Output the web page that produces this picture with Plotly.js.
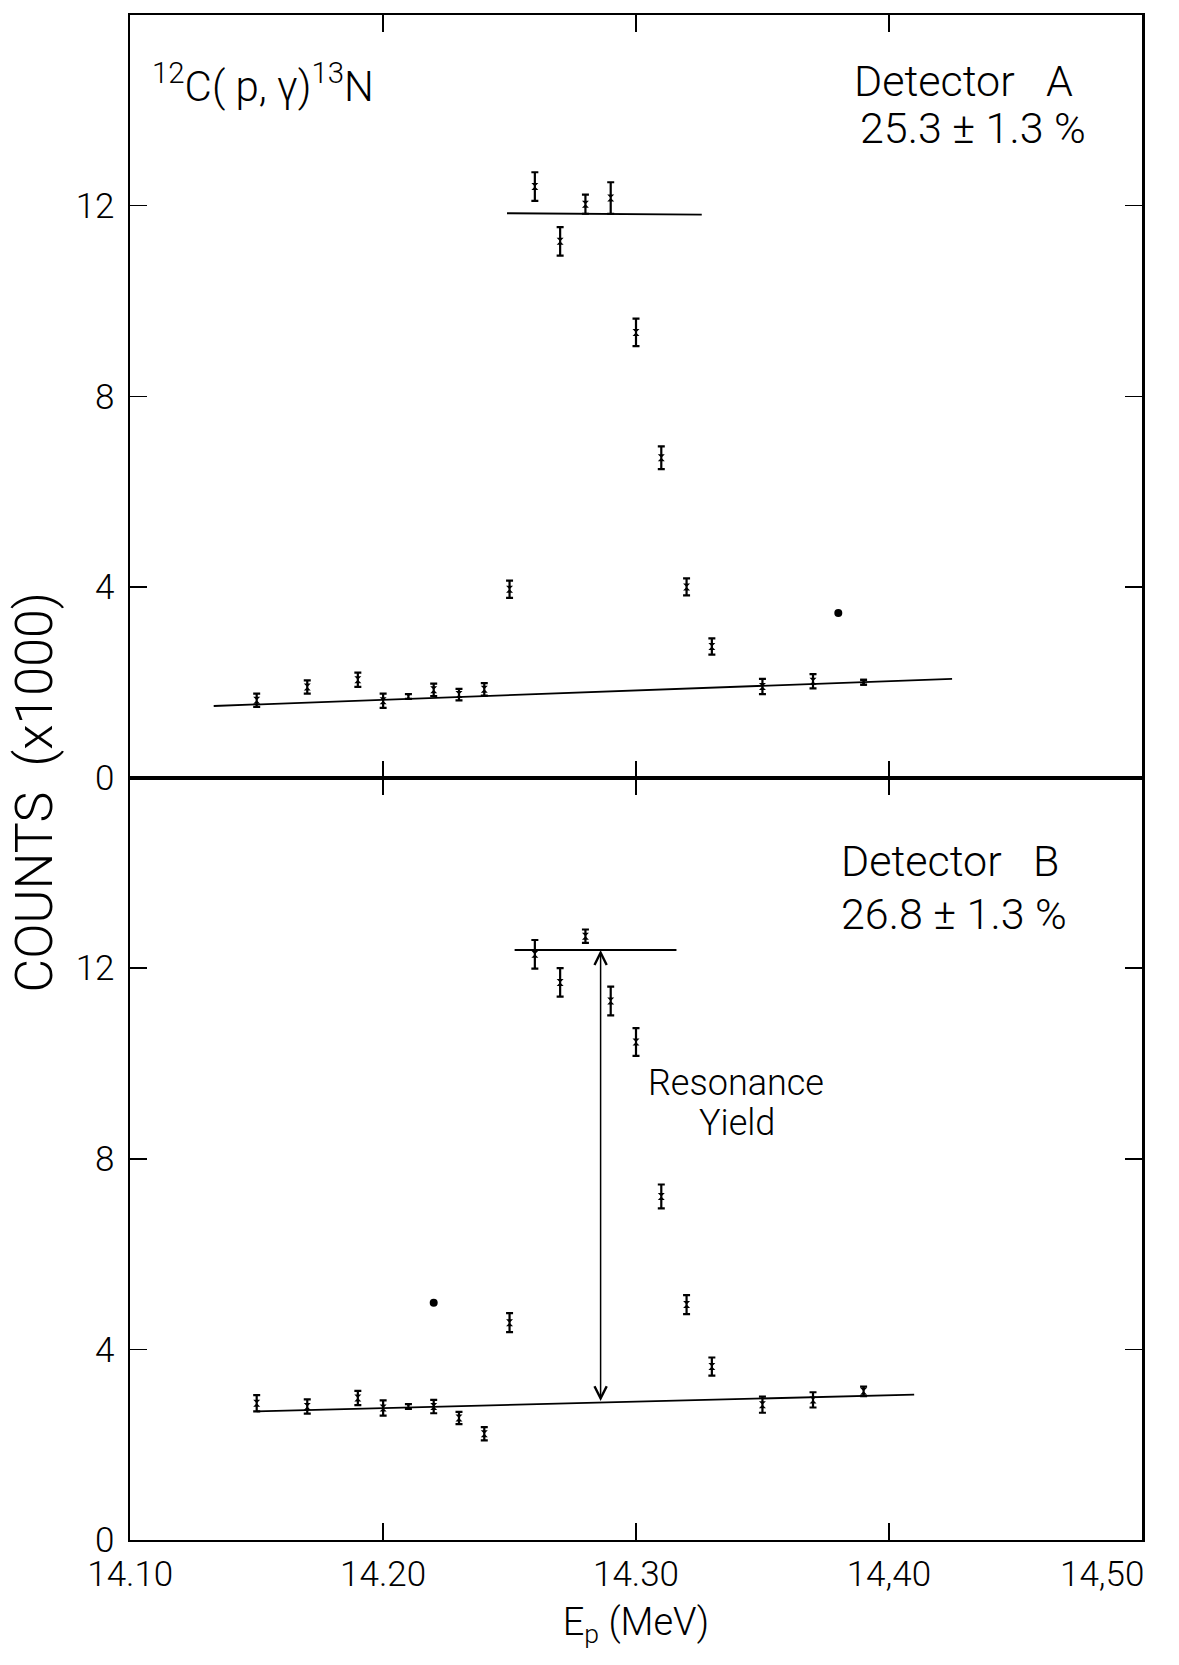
<!DOCTYPE html>
<html>
<head>
<meta charset="utf-8">
<script src="https://cdn.plot.ly/plotly-3.0.1.min.js"></script>
<style>html,body{margin:0;padding:0;background:#fff;}#chart{width:1179px;height:1665px;}</style>
</head>
<body>
<div id="chart"></div>
<script>
// ---- Data, counts in units of 1000 ----
const energy = [14.15, 14.17, 14.19, 14.20, 14.21, 14.22, 14.23, 14.24, 14.25, 14.26,
                14.27, 14.28, 14.29, 14.30, 14.31, 14.32, 14.33, 14.35, 14.37, 14.39];

// Detector A (upper panel)
const countsA = [1.62, 1.90, 2.05, 1.61, 1.70, 1.84, 1.74, 1.85, 3.95, 12.40,
                 11.25, 12.03, 12.16, 9.34, 6.71, 4.00, 2.75, 1.91, 2.02, 2.00];
const errA    = [0.14, 0.14, 0.15, 0.15, 0.05, 0.13, 0.12, 0.13, 0.18, 0.30,
                 0.30, 0.20, 0.33, 0.29, 0.24, 0.18, 0.17, 0.16, 0.15, 0.05];
const bgLineA_E = [14.133, 14.425];
const bgLineA_y = [1.50, 2.07];
const plateauA_E = [14.249, 14.326];
const plateauA_y = [11.84, 11.81];
const strayA_E = [14.38];
const strayA_y = [3.45];

// Detector B (lower panel)
const countsB = [2.87, 2.80, 2.98, 2.77, 2.80, 2.80, 2.56, 2.23, 4.56, 12.29,
                 11.70, 12.67, 11.31, 10.45, 7.21, 4.94, 3.64, 2.84, 2.94, 3.12];
const errB    = [0.17, 0.15, 0.15, 0.16, 0.05, 0.14, 0.13, 0.14, 0.20, 0.30,
                 0.30, 0.14, 0.30, 0.29, 0.25, 0.20, 0.19, 0.17, 0.16, 0.10];
const bgLineB_E = [14.150, 14.410];
const bgLineB_y = [2.70, 3.05];
const plateauB_E = [14.252, 14.316];
const plateauB_y = [12.38, 12.38];
const strayB_E = [14.22];
const strayB_y = [4.98];
const resonanceE = 14.286;

// Axis ticks
const xTickVals = [14.10, 14.20, 14.30, 14.40, 14.50];
const xTickText = ['14.10', '14.20', '14.30', '14,40', '14,50'];
const yTickVals = [0, 4, 8, 12];
const yTickText = ['0', '4', '8', '12'];

// ---- Build ----
const FONT = 'Roboto, "Open Sans", "DejaVu Sans", sans-serif';
const K = 'black';

function errTrace(x, y, e, xa, ya) {
  return {
    x: x, y: y, xaxis: xa, yaxis: ya, type: 'scatter', mode: 'markers',
    marker: {symbol: 'hourglass', size: 7, color: K},
    error_y: {type: 'data', array: e, visible: true, thickness: 2.2, width: 3.5, color: K},
    hoverinfo: 'x+y', cliponaxis: false
  };
}
function lineTrace(x, y, xa, ya) {
  return {x: x, y: y, xaxis: xa, yaxis: ya, type: 'scatter', mode: 'lines',
          line: {color: K, width: 1.8}, hoverinfo: 'skip'};
}
function dotTrace(x, y, xa, ya) {
  return {x: x, y: y, xaxis: xa, yaxis: ya, type: 'scatter', mode: 'markers',
          marker: {symbol: 'circle', size: 8, color: K}, hoverinfo: 'x+y'};
}

const traces = [
  lineTrace(bgLineA_E, bgLineA_y, 'x2', 'y2'),
  lineTrace(plateauA_E, plateauA_y, 'x2', 'y2'),
  errTrace(energy, countsA, errA, 'x2', 'y2'),
  dotTrace(strayA_E, strayA_y, 'x2', 'y2'),
  lineTrace(bgLineB_E, bgLineB_y, 'x', 'y'),
  lineTrace(plateauB_E, plateauB_y, 'x', 'y'),
  errTrace(energy, countsB, errB, 'x', 'y'),
  dotTrace(strayB_E, strayB_y, 'x', 'y')
];

// baseline value under the resonance arrow (from the drawn background line)
const baseAtRes = bgLineB_y[0] + (bgLineB_y[1] - bgLineB_y[0]) *
                  (resonanceE - bgLineB_E[0]) / (bgLineB_E[1] - bgLineB_E[0]);

const nX = xTickVals.length;
// the last tick label sits at the right edge; it is drawn right-aligned as an annotation
const axisTickText = xTickText.map((t, i) => i === nX - 1 ? ' ' : t);

const tickFont = {family: FONT, size: 35, color: K, weight: 300};
const commonX = {
  range: [14.0999, 14.5001], tickmode: 'array', tickvals: xTickVals, ticktext: axisTickText,
  ticks: 'inside', ticklen: 17, tickwidth: 1.5, tickcolor: K,
  showline: true, linewidth: 2, linecolor: K, mirror: 'ticks',
  showgrid: false, zeroline: false, tickfont: tickFont
};
const commonY = {
  range: [0, 16], tickmode: 'array', tickvals: yTickVals, ticktext: yTickText,
  ticks: 'inside', ticklen: 17, tickwidth: 1.5, tickcolor: K,
  showline: true, linewidth: 2.5, linecolor: K, mirror: 'ticks',
  showgrid: false, zeroline: false, tickfont: tickFont, ticklabelstandoff: 6
};

const txt = (size) => ({family: FONT, size: size, color: K, weight: 300});

const layout = {
  width: 1179, height: 1665,
  margin: {l: 130, r: 37, t: 15, b: 125},
  paper_bgcolor: 'white', plot_bgcolor: 'white',
  showlegend: false,
  xaxis: Object.assign({}, commonX, {anchor: 'y', domain: [0, 1], ticklabelstandoff: 2,
           title: {text: 'E<sub>p</sub> (MeV)', font: txt(38), standoff: 14}}),
  xaxis2: Object.assign({}, commonX, {anchor: 'y2', matches: 'x', showticklabels: false}),
  yaxis: Object.assign({}, commonY, {anchor: 'x', domain: [0, 0.5]}),
  yaxis2: Object.assign({}, commonY, {anchor: 'x2', domain: [0.5, 1]}),
  annotations: [
    {xref: 'x', yref: 'paper', x: xTickVals[nX - 1], y: 0, yshift: -12, xshift: 4,
     xanchor: 'right', yanchor: 'top', showarrow: false,
     text: xTickText[nX - 1], font: tickFont},
    {xref: 'paper', yref: 'paper', x: -0.094, y: 0.49, textangle: -90, showarrow: false,
     text: 'COUNTS  (x1000)', font: txt(52), xanchor: 'center', yanchor: 'middle'},
    {xref: 'paper', yref: 'paper', x: 0.02, y: 0.955, xanchor: 'left', yanchor: 'middle', showarrow: false,
     text: '<sup>12</sup>C( p, γ)<sup>13</sup>N', font: txt(42)},
    {xref: 'paper', yref: 'paper', x: 0.713, y: 0.957, xanchor: 'left', yanchor: 'middle', showarrow: false,
     text: 'Detector   A', font: txt(43)},
    {xref: 'paper', yref: 'paper', x: 0.719, y: 0.926, xanchor: 'left', yanchor: 'middle', showarrow: false,
     text: '25.3 ± 1.3 %', font: txt(43)},
    {xref: 'paper', yref: 'paper', x: 0.701, y: 0.445, xanchor: 'left', yanchor: 'middle', showarrow: false,
     text: 'Detector   B', font: txt(43)},
    {xref: 'paper', yref: 'paper', x: 0.701, y: 0.4105, xanchor: 'left', yanchor: 'middle', showarrow: false,
     text: '26.8 ± 1.3 %', font: txt(43)},
    {xref: 'paper', yref: 'paper', x: 0.599, y: 0.2997, xanchor: 'center', yanchor: 'middle', showarrow: false,
     text: 'Resonance', font: txt(36)},
    {xref: 'paper', yref: 'paper', x: 0.6, y: 0.2734, xanchor: 'center', yanchor: 'middle', showarrow: false,
     text: 'Yield', font: txt(36)},
    {xref: 'x', yref: 'y', axref: 'x', ayref: 'y',
     x: resonanceE, y: plateauB_y[0], ax: resonanceE, ay: baseAtRes,
     text: '', showarrow: true, arrowside: 'end+start', arrowhead: 5, startarrowhead: 5,
     arrowsize: 1.6, startarrowsize: 1.6, arrowwidth: 1.5, arrowcolor: K, standoff: 0, startstandoff: 0}
  ]
};

Plotly.newPlot('chart', traces, layout, {displayModeBar: false, staticPlot: true});
</script>
</body>
</html>
